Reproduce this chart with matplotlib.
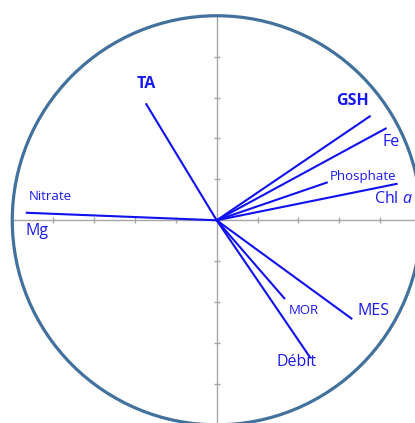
import matplotlib
matplotlib.use("Agg")
import matplotlib.pyplot as plt
from matplotlib.patches import Circle

# Data: variable loadings on the two principal components
variables = ["Nitrate", "TA", "GSH", "Fe", "Phosphate", "Chl a", "MOR", "MES", "Débit"]
pc1 = [-0.934, -0.347, 0.753, 0.831, 0.543, 0.885, 0.334, 0.663, 0.460]
pc2 = [0.037, 0.572, 0.511, 0.451, 0.186, 0.179, -0.385, -0.483, -0.675]

# Labels (text, x, y, size, weight)
label_texts = ["Nitrate", "Mg", "TA", "GSH", "Fe", "Phosphate", r"Chl $\mathit{a}$", "MOR", "MES", "Débit"]
label_x = [-0.815, -0.877, -0.347, 0.663, 0.851, 0.714, 0.864, 0.428, 0.768, 0.391]
label_y = [0.115, -0.051, 0.665, 0.583, 0.385, 0.213, 0.102, -0.439, -0.442, -0.691]
label_size = [9.5, 11.5, 11.5, 11.5, 11.5, 9.5, 11.5, 9.5, 11.5, 11.5]
label_weight = ["normal", "normal", "bold", "bold", "normal", "normal", "normal", "normal", "normal", "normal"]

tick_vals = [-0.8, -0.6, -0.4, -0.2, 0.2, 0.4, 0.6, 0.8]

plt.rcParams['font.family'] = ['Open Sans', 'DejaVu Sans']
plt.rcParams['mathtext.fontset'] = 'custom'
plt.rcParams['mathtext.it'] = 'Open Sans:italic'
plt.rcParams['mathtext.rm'] = 'Open Sans'

fig = plt.figure(figsize=(4.15, 4.23), dpi=100)
ax = fig.add_axes([0, 0, 1, 1])
ax.set_xlim(-1.060, 0.970)
ax.set_ylim(-0.991, 1.077)
ax.axis('off')

axis_col = '#A6A6A6'
ax.plot([-1, 1], [0, 0], color=axis_col, lw=1.0, zorder=1)
ax.plot([0, 0], [-1, 1], color=axis_col, lw=1.0, zorder=1)
ax.plot(tick_vals, [0] * len(tick_vals), ls='none', marker='|', ms=4, mew=1.0, color=axis_col, zorder=1)
ax.plot([0] * len(tick_vals), tick_vals, ls='none', marker='_', ms=4, mew=1.0, color=axis_col, zorder=1)

ax.add_patch(Circle((0, 0), 1.0, fill=False, ec='#41719C', lw=2.3, zorder=2))

for x, y in zip(pc1, pc2):
    ax.plot([0, x], [0, y], color='#1010F0', lw=1.5, zorder=3, solid_capstyle='butt')

for t, x, y, s, w in zip(label_texts, label_x, label_y, label_size, label_weight):
    ax.text(x, y, t, fontsize=s, fontweight=w, color='#1a1aF0', ha='center', va='center', zorder=4)

fig.savefig('out.png', dpi=100)
